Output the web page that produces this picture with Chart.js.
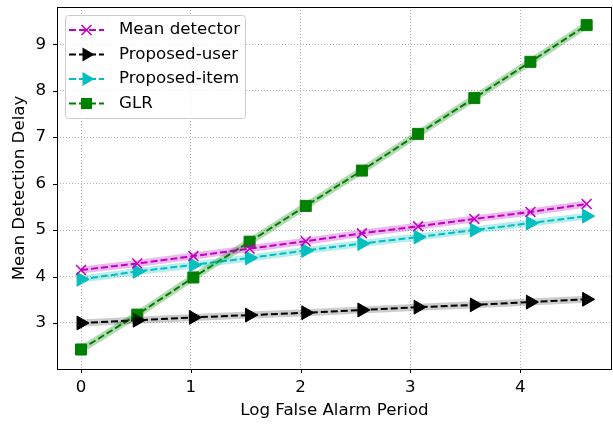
<!DOCTYPE html>
<html>
<head>
<meta charset="utf-8">
<script src="https://cdn.jsdelivr.net/npm/chart.js@4/dist/chart.umd.min.js"></script>
<style>
  body { margin: 0; background: #fff; }
  #wrap { width: 613px; height: 425px; }
</style>
</head>
<body>
<div id="wrap"><canvas id="mycanvas" width="613" height="425"></canvas></div>
<script>
// x = log false alarm period
var logPeriod = [0, 0.512, 1.023, 1.535, 2.047, 2.558, 3.07, 3.582, 4.093, 4.605];
var meanDetector = [4.14, 4.28, 4.44, 4.60, 4.76, 4.93, 5.08, 5.24, 5.39, 5.56];
var proposedUser = [3.00, 3.06, 3.12, 3.17, 3.22, 3.28, 3.34, 3.39, 3.45, 3.51];
var proposedItem = [3.94, 4.11, 4.25, 4.40, 4.56, 4.71, 4.85, 5.00, 5.15, 5.30];
var glr = [2.43, 3.18, 3.98, 4.75, 5.52, 6.28, 7.07, 7.84, 8.62, 9.41];
var xTicks = [0, 1, 2, 3, 4];
var yTicks = [3, 4, 5, 6, 7, 8, 9];

var FONT = "'DejaVu Sans', sans-serif";
var FSIZE = 16.67;

var series = [
	{ label: 'Mean detector', data: meanDetector, color: '#bf00bf', band: 'rgba(191,0,191,0.28)', style: 'crossRot', radius: 7, rot: 0 },
	{ label: 'Proposed-user', data: proposedUser, color: '#000000', band: 'rgba(0,0,0,0.2)', style: 'triangle', radius: 8, rot: 90 },
	{ label: 'Proposed-item', data: proposedItem, color: '#00bfbf', band: 'rgba(0,191,191,0.28)', style: 'triangle', radius: 8, rot: 90 },
	{ label: 'GLR', data: glr, color: '#008000', band: 'rgba(0,128,0,0.3)', style: 'rect', radius: 7.8, rot: 0 }
];

function pts(arr) {
	var out = [];
	for (var i in arr) out.push({ x: logPeriod[i], y: arr[i] });
	return out;
}

var datasets = [];
// light bands underneath
for (var i in series) {
	datasets.push({
		label: '_band' + i,
		data: pts(series[i].data),
		borderColor: series[i].band,
		borderWidth: 7,
		pointRadius: 0,
		pointHoverRadius: 0,
		fill: false,
		tension: 0
	});
}
for (var i in series) {
	var s = series[i];
	datasets.push({
		label: s.label,
		data: pts(s.data),
		borderColor: s.color,
		backgroundColor: s.color,
		borderWidth: 2,
		borderDash: [7, 3],
		pointStyle: s.style,
		pointRadius: s.radius,
		pointRotation: s.rot,
		pointBorderColor: s.color,
		pointBackgroundColor: s.color,
		pointBorderWidth: s.style == 'crossRot' ? 1.5 : 1,
		fill: false,
		tension: 0
	});
}

var framePlugin = {
	id: 'frame',
	afterDraw: function(chart) {
		var ctx = chart.ctx;
		var a = chart.chartArea;
		var xs = chart.scales.x, ys = chart.scales.y;
		ctx.save();
		ctx.strokeStyle = '#000';
		ctx.lineWidth = 1;
		ctx.strokeRect(a.left + 0.5, a.top + 0.5, a.right - a.left - 1, a.bottom - a.top);
		ctx.beginPath();
		xTicks.forEach(function(v) {
			var px = Math.round(xs.getPixelForValue(v)) + 0.5;
			ctx.moveTo(px, a.bottom);
			ctx.lineTo(px, a.bottom + 4);
		});
		yTicks.forEach(function(v) {
			var py = Math.round(ys.getPixelForValue(v)) + 0.5;
			ctx.moveTo(a.left, py);
			ctx.lineTo(a.left - 4, py);
		});
		ctx.stroke();

		// legend
		var bx = 65, by = 15, bw = 180, bh = 103;
		ctx.beginPath();
		ctx.roundRect(bx + 0.5, by + 0.5, bw, bh, 3);
		ctx.fillStyle = 'rgba(255,255,255,0.8)';
		ctx.fill();
		ctx.strokeStyle = '#cccccc';
		ctx.stroke();
		ctx.font = FSIZE + 'px ' + FONT;
		ctx.textBaseline = 'middle';
		for (var i in series) {
			var s = series[i];
			var ly = 30 + i * 24.5;
			ctx.strokeStyle = s.color;
			ctx.fillStyle = s.color;
			ctx.lineWidth = 2;
			ctx.setLineDash([7, 3]);
			ctx.beginPath();
			ctx.moveTo(69, ly);
			ctx.lineTo(104, ly);
			ctx.stroke();
			ctx.setLineDash([]);
			var cx = 86.5;
			ctx.beginPath();
			if (s.style == 'crossRot') {
				ctx.lineWidth = 1.5;
				ctx.moveTo(cx - 5, ly - 5); ctx.lineTo(cx + 5, ly + 5);
				ctx.moveTo(cx - 5, ly + 5); ctx.lineTo(cx + 5, ly - 5);
				ctx.stroke();
			} else if (s.style == 'triangle') {
				ctx.moveTo(cx + 8, ly);
				ctx.lineTo(cx - 4, ly - 6.9);
				ctx.lineTo(cx - 4, ly + 6.9);
				ctx.closePath();
				ctx.fill();
			} else {
				ctx.rect(cx - 5.5, ly - 5.5, 11, 11);
				ctx.fill();
			}
			ctx.fillStyle = '#000';
			ctx.fillText(s.label, 119, ly);
		}
		ctx.restore();
	}
};

var ctx = document.getElementById('mycanvas');
var chart = new Chart(ctx, {
	type: 'line',
	data: { datasets: datasets },
	plugins: [framePlugin],
	options: {
		responsive: false,
		animation: false,
		layout: { autoPadding: false, padding: { left: 0, right: 1, top: 7, bottom: 0 } },
		plugins: {
			legend: { display: false },
			tooltip: { enabled: false }
		},
		scales: {
			x: {
				type: 'linear',
				min: -0.219,
				max: 4.836,
				afterBuildTicks: function(axis) {
					axis.ticks = xTicks.map(function(v) { return { value: v }; });
				},
				afterFit: function(axis) { axis.height = 56; axis.paddingLeft = 0; axis.paddingRight = 0; },
				grid: { color: '#b0b0b0', lineWidth: 1, drawTicks: false },
				border: { display: false, dash: [1, 2] },
				ticks: { color: '#000', padding: 9, font: { family: FONT, size: FSIZE } },
				title: { display: true, text: 'Log False Alarm Period', color: '#000', padding: { top: 1 }, font: { family: FONT, size: FSIZE } }
			},
			y: {
				type: 'linear',
				min: 2.01,
				max: 9.80,
				afterBuildTicks: function(axis) {
					axis.ticks = yTicks.map(function(v) { return { value: v }; });
				},
				afterFit: function(axis) { axis.width = 57; axis.paddingTop = 0; axis.paddingBottom = 0; },
				grid: { color: '#b0b0b0', lineWidth: 1, drawTicks: false },
				border: { display: false, dash: [1, 2] },
				ticks: { color: '#000', padding: 11, font: { family: FONT, size: FSIZE } },
				title: { display: true, text: 'Mean Detection Delay', color: '#000', padding: { top: 10, bottom: 0 }, font: { family: FONT, size: FSIZE } }
			}
		}
	}
});
</script>
</body>
</html>
